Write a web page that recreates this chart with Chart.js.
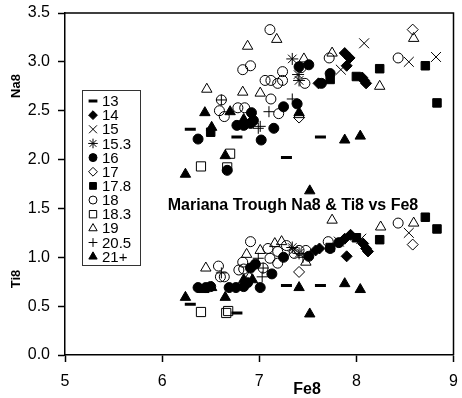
<!DOCTYPE html>
<html lang="en">
<head>
  <meta charset="UTF-8">
  <title>Mariana Trough Na8 & Ti8 vs Fe8</title>
  <script src="https://cdn.jsdelivr.net/npm/chart.js"></script>
  <style>
    body { margin: 0; background: #fff; }
    canvas { display: block; }
  </style>
</head>
<body>
  <canvas id="chart" width="462" height="398"></canvas>

  <script>
    // Series names (legend order)
    const seriesNames = ["13", "14", "15", "15.3", "16", "17", "17.8", "18", "18.3", "19", "20.5", "21+"];

    // Axis ticks
    const xTicks = [5, 6, 7, 8, 9];
    const yTicks = [0, 0.5, 1, 1.5, 2, 2.5, 3, 3.5];

    // [Fe8, Na8] and [Fe8, Ti8] pairs per series
    const na13 = [[6.29,2.31],[6.77,2.23],[7.28,2.02],[7.63,2.23]];
    const ti13 = [[6.29,0.52],[6.77,0.43],[7.28,0.71],[7.63,0.71]];

    const na14 = [[7.88,3.09],[7.93,3.04],[7.90,2.96],[7.61,2.78],[8.06,2.84],[8.10,2.78],[8.08,2.81]];
    const ti14 = [[7.58,1.07],[7.62,1.09],[7.90,1.01],[7.88,1.19],[7.94,1.23],[8.07,1.14],[8.10,1.09],[8.12,1.06]];

    const na15 = [[8.08,3.19],[7.84,2.92],[8.54,3.00],[8.82,3.05]];
    const ti15 = [[7.82,1.16],[8.05,1.19],[8.54,1.25],[7.35,1.07]];

    const na153 = [[7.34,3.03],[7.41,2.81],[7.40,2.87]];
    const ti153 = [[7.34,1.10],[7.41,1.04]];

    const na16 = [[7.39,2.57],[7.25,2.54],[6.92,2.48],[6.77,2.35],[6.84,2.35],[6.91,2.37],[6.94,2.40],[7.15,2.32],
                  [7.02,2.20],[6.37,2.21],[7.51,2.97],[7.41,2.95],[7.73,2.88],[7.64,2.78],[6.67,1.89]];
    const ti16 = [[6.37,0.69],[6.45,0.69],[6.50,0.70],[6.69,0.69],[6.76,0.69],[6.84,0.70],[7.01,0.69],[6.91,0.89],
                  [7.13,0.83],[7.25,1.00],[7.51,1.01],[7.73,1.09],[7.82,1.15],[6.96,0.93],[6.88,0.74]];

    const na17 = [[8.58,3.33],[7.41,2.43]];
    const ti17 = [[8.58,1.13],[7.41,0.85]];

    const na178 = [[6.50,2.28],[7.73,2.82],[8.00,2.85],[8.24,2.93],[8.71,2.96],[8.83,2.58]];
    const ti178 = [[8.24,1.18],[8.71,1.41],[8.83,1.29],[8.00,1.20],[7.73,1.10]];

    const na18 = [[7.11,3.33],[6.83,2.92],[6.91,2.96],[7.06,2.81],[7.12,2.81],[7.19,2.78],[7.24,2.81],[7.24,2.90],
                  [6.61,2.61],[7.12,2.62],[7.20,2.47],[6.59,2.50],[6.64,2.44],[6.78,2.53],[6.85,2.53],[7.72,3.04],
                  [8.43,3.04],[7.43,2.94],[7.47,2.78]];
    const ti18 = [[6.91,1.16],[7.09,1.09],[7.19,1.06],[7.11,0.99],[7.19,0.94],[6.83,0.95],[6.79,0.87],[6.84,0.88],
                  [7.04,0.89],[6.58,0.91],[6.60,0.80],[6.64,0.80],[7.41,1.07],[7.48,1.07],[7.71,1.16],[8.43,1.35],
                  [7.28,1.12],[7.36,1.04]];

    const na183 = [[6.70,2.06],[6.40,1.93],[6.67,1.92]];
    const ti183 = [[6.40,0.44],[6.66,0.43],[6.68,0.45]];

    const na19 = [[7.18,3.23],[6.88,3.16],[6.46,2.72],[6.83,2.69],[7.01,2.68],[7.75,3.09],[7.46,3.03],[8.59,3.24],
                  [8.24,2.75],[7.41,2.46]];
    const ti19 = [[6.87,1.03],[7.01,1.07],[7.16,1.14],[7.23,1.16],[6.45,0.89],[7.48,0.95],[7.75,1.38],[8.25,1.31],
                  [8.59,1.35],[6.90,0.80]];

    const na205 = [[6.61,2.61],[7.34,2.62],[7.10,2.49],[7.01,2.34],[6.99,2.32]];
    const ti205 = [[6.99,0.99],[7.04,0.89],[7.03,0.80],[6.61,0.84],[7.45,1.00]];

    const na21 = [[6.44,2.48],[6.70,2.49],[6.84,2.41],[6.51,2.33],[6.65,2.04],[6.24,1.85],[7.88,2.20],[8.04,2.24],
                  [7.52,1.68],[7.41,2.48]];
    const ti21 = [[6.84,0.77],[6.93,0.77],[6.43,0.67],[6.51,0.69],[6.24,0.59],[6.65,0.59],[7.41,0.69],[7.88,0.73],
                  [8.04,0.67],[7.52,0.42]];

    const naSets = [na13, na14, na15, na153, na16, na17, na178, na18, na183, na19, na205, na21];
    const tiSets = [ti13, ti14, ti15, ti153, ti16, ti17, ti178, ti18, ti183, ti19, ti205, ti21];

    // Marker look per series: [pointStyle, filled, radius, borderWidth]
    const markers = [
      ["line", true, 5.5, 3],
      ["rectRot", true, 5.5, 1],
      ["crossRot", false, 7, 1],
      ["star", false, 6, 1],
      ["circle", true, 5, 1],
      ["rectRot", false, 5.5, 1],
      ["rect", true, 6, 1],
      ["circle", false, 5, 1],
      ["rect", false, 6.5, 1],
      ["triangle", false, 6, 1],
      ["cross", false, 5.5, 1],
      ["triangle", true, 6, 1]
    ];

    const datasets = seriesNames.map((name, i) => {
      const m = markers[i];
      const pts = naSets[i].concat(tiSets[i]).map(p => ({ x: p[0], y: p[1] }));
      return {
        label: name,
        data: pts,
        pointStyle: m[0],
        pointRadius: m[2],
        pointBorderWidth: m[3],
        borderColor: "#000",
        backgroundColor: m[1] ? "#000" : "rgba(0,0,0,0)",
        showLine: false
      };
    });

    const FONT = "'Liberation Sans', Arial, sans-serif";

    // Extra drawing: frame, title, axis labels, legend box
    const decorations = {
      id: "decorations",
      afterDraw(chart) {
        const ctx = chart.ctx;
        const a = chart.chartArea;
        ctx.save();

        // top and right frame
        ctx.strokeStyle = "#000";
        ctx.lineWidth = 1.5;
        ctx.beginPath();
        ctx.moveTo(a.left, a.top);
        ctx.lineTo(a.right, a.top);
        ctx.lineTo(a.right, a.bottom);
        ctx.stroke();

        ctx.fillStyle = "#000";
        ctx.textAlign = "center";
        ctx.textBaseline = "middle";

        // title inside plot
        ctx.font = "bold 16px " + FONT;
        ctx.fillText("Mariana Trough Na8 & Ti8 vs Fe8", 293, 206);

        // x axis label
        ctx.fillText("Fe8", 307, 390);

        // rotated y labels
        ctx.font = "bold 13px " + FONT;
        [["Na8", 86], ["Ti8", 279]].forEach(([t, y]) => {
          ctx.save();
          ctx.translate(16, y);
          ctx.rotate(-Math.PI / 2);
          ctx.fillText(t, 0, 0);
          ctx.restore();
        });

        // legend
        const lx = 82, ly = 90, lw = 58, lh = 175;
        ctx.fillStyle = "#fff";
        ctx.fillRect(lx, ly, lw, lh);
        ctx.strokeStyle = "#333";
        ctx.lineWidth = 1;
        ctx.strokeRect(lx + 0.5, ly + 0.5, lw, lh);

        ctx.font = "15px " + FONT;
        ctx.textAlign = "left";
        seriesNames.forEach((name, i) => {
          const m = markers[i];
          const y = 101 + i * 14.15;
          ctx.fillStyle = m[1] ? "#000" : "rgba(0,0,0,0)";
          ctx.strokeStyle = "#000";
          ctx.lineWidth = m[3];
          Chart.helpers.drawPoint(ctx, {
            pointStyle: m[0], radius: m[2] * 0.8, borderWidth: m[3], rotation: 0
          }, 93, y);
          ctx.fillStyle = "#000";
          ctx.fillText(name, 102, y + 1);
        });

        ctx.restore();
      }
    };

    new Chart(document.getElementById("chart"), {
      type: "scatter",
      data: { datasets: datasets },
      options: {
        responsive: false,
        animation: false,
        devicePixelRatio: 1,
        layout: { padding: { top: 13, right: 2, left: 0, bottom: 0 } },
        plugins: {
          legend: { display: false },
          tooltip: { enabled: false }
        },
        scales: {
          x: {
            type: "linear",
            min: xTicks[0],
            max: xTicks[xTicks.length - 1],
            afterBuildTicks: s => { s.ticks = xTicks.map(v => ({ value: v })); },
            ticks: { color: "#000", font: { family: FONT, size: 16 }, padding: 10, maxRotation: 0 },
            grid: { drawOnChartArea: false, tickLength: 7, tickColor: "#000", tickWidth: 1.5 },
            border: { color: "#000", width: 1.5 },
            afterFit: s => { s.height = 43; s.paddingLeft = 0; s.paddingRight = 0; }
          },
          y: {
            type: "linear",
            min: yTicks[0],
            max: yTicks[yTicks.length - 1],
            afterBuildTicks: s => { s.ticks = yTicks.map(v => ({ value: v })); },
            ticks: {
              color: "#000", font: { family: FONT, size: 16 }, padding: 8,
              callback: v => v.toFixed(1)
            },
            grid: { drawOnChartArea: false, tickLength: 7, tickColor: "#000", tickWidth: 1.5 },
            border: { color: "#000", width: 1.5 },
            afterFit: s => { s.width = 65; s.paddingTop = 0; s.paddingBottom = 0; }
          }
        }
      },
      plugins: [decorations]
    });
  </script>
</body>
</html>
